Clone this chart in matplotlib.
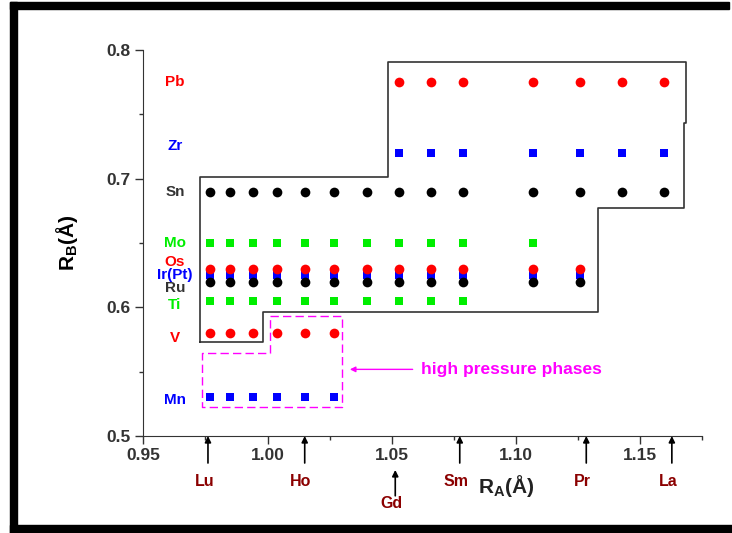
import matplotlib
matplotlib.use('Agg')
import matplotlib.pyplot as plt
from matplotlib.patches import Rectangle
from matplotlib.ticker import MultipleLocator

plt.rcParams['font.family'] = ['Liberation Sans', 'DejaVu Sans']
plt.rcParams['font.weight'] = 'bold'
plt.rcParams['mathtext.fontset'] = 'custom'
plt.rcParams['mathtext.rm'] = 'Liberation Sans:bold'
plt.rcParams['mathtext.bf'] = 'Liberation Sans:bold'

# A-site ionic radii (Å)
lu, yb, tm, er, ho, dy, tb, gd = 0.977, 0.985, 0.994, 1.004, 1.015, 1.027, 1.040, 1.053
eu, sm, nd, pr, ce, la = 1.066, 1.079, 1.107, 1.126, 1.143, 1.160

# B-site ions and their radii
b_names = ['Pb', 'Zr', 'Sn', 'Mo', 'Os', 'Ir(Pt)', 'Ru', 'Ti', 'V', 'Mn']
b_radii = [0.775, 0.72, 0.69, 0.65, 0.63, 0.625, 0.62, 0.605, 0.58, 0.53]
b_xs = [
    [gd, eu, sm, nd, pr, ce, la],
    [gd, eu, sm, nd, pr, ce, la],
    [lu, yb, tm, er, ho, dy, tb, gd, eu, sm, nd, pr, ce, la],
    [lu, yb, tm, er, ho, dy, tb, gd, eu, sm, nd],
    [lu, yb, tm, er, ho, dy, tb, gd, eu, sm, nd, pr],
    [lu, yb, tm, er, ho, dy, tb, gd, eu, sm, nd, pr],
    [lu, yb, tm, er, ho, dy, tb, gd, eu, sm, nd, pr],
    [lu, yb, tm, er, ho, dy, tb, gd, eu, sm],
    [lu, yb, tm, er, ho, dy],
    [lu, yb, tm, er, ho, dy],
]
b_colors = ['red', 'blue', 'black', '#00ee00', 'red', 'blue', 'black', '#00ee00', 'red', 'blue']
b_label_colors = ['red', 'blue', '#333333', '#00ee00', 'red', 'blue', '#333333', '#00ee00', 'red', 'blue']
b_markers = ['o', 's', 'o', 's', 'o', 's', 'o', 's', 'o', 's']
b_label_y = [0.7754, 0.7251, 0.690, 0.650, 0.6355, 0.6251, 0.615, 0.6018, 0.5762, 0.528]

# rare earths marked with arrows below the axis
a_names = ['Lu', 'Ho', 'Gd', 'Sm', 'Pr', 'La']
a_radii = [0.976, 1.015, 1.0515, 1.0775, 1.1285, 1.163]

# pyrochlore stability field outline
field_x = [0.9727, 0.9727, 1.0487, 1.0487, 1.1687, 1.1687, 1.168, 1.168, 1.1331, 1.1331, 0.9982, 0.9982, 0.9727]
field_y = [0.5733, 0.7016, 0.7016, 0.7909, 0.7909, 0.743, 0.743, 0.677, 0.677, 0.5967, 0.5967, 0.5733, 0.5733]
# high pressure region outline
hp_x = [1.0009, 1.0302, 1.0302, 0.9734, 0.9734, 1.0009, 1.0009]
hp_y = [0.5933, 0.5933, 0.5226, 0.5226, 0.5648, 0.5648, 0.5933]

fig = plt.figure(figsize=(7.32, 5.33), dpi=100)
ax = fig.add_axes([0.196, 0.182, 0.7625, 0.724])

ax.plot(field_x, field_y, color='#333333', lw=1.2, zorder=1)
ax.plot(hp_x, hp_y, color='#ff00ff', lw=1.0, ls=(0, (6, 3)), zorder=1)

for name, r, xs, c, m in zip(b_names, b_radii, b_xs, b_colors, b_markers):
    z = 2 if name == 'Ir(Pt)' else 3
    ax.plot(xs, [r] * len(xs), ls='none', marker=m, color=c, ms=7 if m == 'o' else 6.3, mew=0, zorder=z)

for name, y, c in zip(b_names, b_label_y, b_label_colors):
    ax.text(0.9627, y, name, color=c, fontsize=11, fontweight='bold', ha='center', va='center')

for name, x in zip(a_names, a_radii):
    y0, y1, ty = (-0.07, 0.0, -0.118)
    if name == 'Gd':
        y0, y1, ty = (-0.155, -0.088, -0.176)
    ax.annotate('', xy=(x, y1), xycoords=('data', 'axes fraction'), xytext=(x, y0),
                textcoords=('data', 'axes fraction'), annotation_clip=False,
                arrowprops=dict(arrowstyle='-|>', color='black', lw=1.2, mutation_scale=9, shrinkA=0, shrinkB=0))
    ax.text(x - 0.0015, ty, name, transform=ax.get_xaxis_transform(), color='#8b0000',
            fontsize=11.5, fontweight='bold', ha='center', va='center')

ax.annotate('', xy=(1.0332, 0.5518), xytext=(1.0585, 0.5518),
            arrowprops=dict(arrowstyle='-|>', color='#ff00ff', lw=1.0, mutation_scale=8, shrinkA=0, shrinkB=0))
ax.text(1.062, 0.5518, 'high pressure phases', color='#ff00ff', fontsize=12.5, fontweight='bold',
        ha='left', va='center')

ax.set_xlim(0.95, 1.175)
ax.set_ylim(0.5, 0.8)
ax.set_xticks([0.95, 1.00, 1.05, 1.10, 1.15])
ax.set_xticklabels(['0.95', '1.00', '1.05', '1.10', '1.15'])
ax.set_yticks([0.5, 0.6, 0.7, 0.8])
ax.set_yticklabels(['0.5', '0.6', '0.7', '0.8'])
ax.xaxis.set_minor_locator(MultipleLocator(0.025))
ax.yaxis.set_minor_locator(MultipleLocator(0.05))
ax.tick_params(which='major', direction='out', length=6, width=1, color='#333333',
               labelsize=12.5, labelcolor='#333333', pad=3)
ax.tick_params(which='minor', direction='out', length=3, width=1, color='#333333')
for lab in ax.get_xticklabels() + ax.get_yticklabels():
    lab.set_fontweight('bold')
for s in ['top', 'right']:
    ax.spines[s].set_visible(False)
for s in ['left', 'bottom']:
    ax.spines[s].set_color('#333333')

ax.set_ylabel('R$_{\\rm B}$(Å)', fontsize=15, fontweight='bold', labelpad=19)
ax.text(1.085, -0.13, 'R$_{\\rm A}$(Å)', transform=ax.get_xaxis_transform(), fontsize=15,
        fontweight='bold', ha='left', va='center', color='#222222')

# black frame around the figure
W, H = 732, 533
for (x0, y0, w, h) in [(10, 2, 719, 7), (10, 2, 7, 531), (10, 525, 722, 8)]:
    fig.patches.append(Rectangle((x0 / W, 1 - (y0 + h) / H), w / W, h / H, transform=fig.transFigure,
                                 color='black', zorder=0))

fig.savefig('out.png', dpi=100)
